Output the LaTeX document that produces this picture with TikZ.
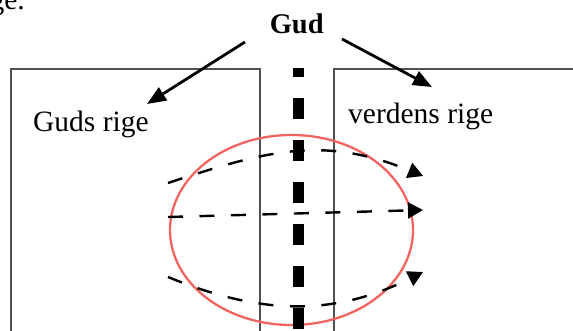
\documentclass[tikz,border=0pt]{standalone}
\usepackage{fontspec}
\setmainfont{Liberation Serif}
\usetikzlibrary{arrows.meta,shapes.geometric}
\definecolor{boxgray}{RGB}{80,80,80}
\definecolor{ringred}{RGB}{242,100,95}
\begin{document}
\begin{tikzpicture}[x=1pt,y=-1pt,
  boxline/.style={draw=boxgray,line width=2.2pt},
  txt/.style={font=\fontsize{29.5}{33}\selectfont, inner sep=0pt},
  godarrow/.style={line width=2.8pt,-{Triangle[length=19pt,width=15pt]}},
  flow/.style={line width=2.4pt,dash pattern=on 15pt off 16.5pt,-{Triangle[length=15pt,width=16pt]}},
  border/.style={line width=11pt,dash pattern=on 21pt off 21pt,dash phase=12pt},
  ring/.style={draw=ringred,line width=2.3pt}]
\useasboundingbox (0,0) rectangle (573,330);
% fragment of the preceding text line
\node[txt,anchor=base east] (prev) at (25,9.3) {ge.};
% the two realms
\draw[boxline] (11,332) -- (11,69) -- (260,69) -- (260,332);
\draw[boxline] (334,332) -- (334,69) -- (575,69);
\node[txt,anchor=base west] (guds) at (33,131.7) {Guds rige};
\node[txt,anchor=base west] (verd) at (348,123.3) {verdens rige};
% God
\node[txt,font=\fontsize{28.5}{32}\selectfont\bfseries,anchor=base] (gud) at (296.7,33.3) {Gud};
\coordinate (gl) at (245,42);
\coordinate (gr) at (342,39);
\coordinate (tl) at (147,104);
\coordinate (tr) at (432,87);
\draw[godarrow] (gl) -- (tl);
\draw[godarrow] (gr) -- (tr);
% red ellipse
\node[ring,ellipse,minimum width=243pt,minimum height=190pt,inner sep=0pt] (ell) at (291.5,230) {};
% dividing line
\coordinate (btop) at (298.8,68);
\coordinate (bbot) at (298.8,332);
\draw[border] (btop) -- (bbot);
% flows
\coordinate (s1) at (168,183);
\coordinate (e1) at (423,176);
\coordinate (s2) at (168,217);
\coordinate (e2) at (423,210);
\coordinate (s3) at (168,277);
\coordinate (e3) at (423,272);
\draw[flow] (s1) .. controls (267.5,150.2) and (323.5,135.2) .. (e1);
\draw[flow] (s2) -- (e2);
\draw[flow] (s3) .. controls (259,314.3) and (332,317.5) .. (e3);
\end{tikzpicture}
\end{document}
